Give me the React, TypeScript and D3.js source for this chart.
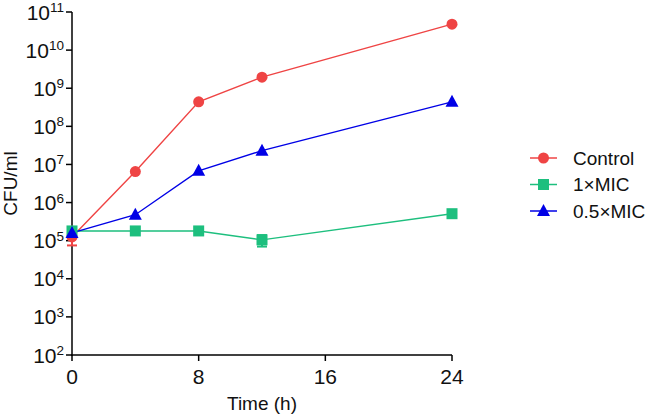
import React from "react";
import * as d3 from "d3";

const times = [0, 4, 8, 12, 24];
const seriesNames = ["Control", "1×MIC", "0.5×MIC"];
const controlValues = [1.25e5, 6.5e6, 4.4e8, 1.95e9, 4.8e10];
const controlErr = [5e4, 0, 0, 0, 0];
const mic1Values = [1.8e5, 1.8e5, 1.8e5, 1.05e5, 5.1e5];
const mic1Err = [2.5e4, 0, 0, 3.5e4, 0];
const mic05Values = [1.6e5, 4.8e5, 6.8e6, 2.3e7, 4.4e8];
const colors = ["#ef4444", "#1dbf7e", "#0000e6"];
const xTicks = [0, 8, 16, 24];
const yExps = [2, 3, 4, 5, 6, 7, 8, 9, 10, 11];

export default function App() {
  const W = 653, H = 417;
  const x = d3.scaleLinear().domain([0, 24]).range([72, 452]);
  const y = d3.scaleLog().domain([1e2, 1e11]).range([355, 12]);
  const line = d3.line<[number, number]>().x(d => x(d[0])).y(d => y(d[1]));
  const data = [controlValues, mic1Values, mic05Values];
  const errs = [controlErr, mic1Err, null];
  const font = "'Liberation Sans', Arial, sans-serif";

  const marker = (i: number, cx: number, cy: number, key: string) => {
    if (i === 0) return <circle key={key} cx={cx} cy={cy} r={5.5} fill={colors[0]} />;
    if (i === 1) return <rect key={key} x={cx - 5.5} y={cy - 5.5} width={11} height={11} fill={colors[1]} />;
    return <path key={key} d={`M${cx},${cy - 7}L${cx + 6.5},${cy + 5}L${cx - 6.5},${cy + 5}Z`} fill={colors[2]} />;
  };

  return (
    <svg width={W} height={H} style={{ position: "absolute", left: 0, top: 0, background: "#fff" }} fontFamily={font}>
      <line x1={72} x2={72} y1={12} y2={356} stroke="#000" strokeWidth={1.5} />
      <line x1={71} x2={452} y1={355} y2={355} stroke="#000" strokeWidth={1.5} />
      {yExps.map(e => (
        <g key={e}>
          <line x1={66} x2={72} y1={y(Math.pow(10, e))} y2={y(Math.pow(10, e))} stroke="#000" strokeWidth={1.5} />
          <text x={64} y={y(Math.pow(10, e)) + 7.5} textAnchor="end" fontSize={21} fill="#111">
            10<tspan dy={-7.5} fontSize={13.5}>{e}</tspan>
          </text>
        </g>
      ))}
      {xTicks.map(t => (
        <g key={t}>
          <line x1={x(t)} x2={x(t)} y1={355} y2={361} stroke="#000" strokeWidth={1.5} />
          <text x={x(t)} y={384} textAnchor="middle" fontSize={21} fill="#111">{t}</text>
        </g>
      ))}
      <text x={262} y={410} textAnchor="middle" fontSize={19} fill="#111">Time (h)</text>
      <text transform={`translate(17,183.5) rotate(-90)`} textAnchor="middle" fontSize={19} fill="#111">CFU/ml</text>

      {data.map((vals, i) => (
        <g key={i}>
          <path d={line(times.map((t, j) => [t, vals[j]] as [number, number])) || ""} fill="none" stroke={colors[i]} strokeWidth={1.4} />
          {errs[i] && times.map((t, j) => errs[i]![j] > 0 ? (
            <g key={j} stroke={colors[i]} strokeWidth={2}>
              <line x1={x(t)} x2={x(t)} y1={y(vals[j] - errs[i]![j])} y2={y(vals[j] + errs[i]![j])} />
              <line x1={x(t) - 5} x2={x(t) + 5} y1={y(vals[j] - errs[i]![j])} y2={y(vals[j] - errs[i]![j])} />
              <line x1={x(t) - 5} x2={x(t) + 5} y1={y(vals[j] + errs[i]![j])} y2={y(vals[j] + errs[i]![j])} />
            </g>
          ) : null)}
        </g>
      ))}
      {[0, 1, 2].map(i => (
        <g key={"m" + i}>{times.map((t, j) => marker(i, x(t), y(data[i][j]), `${i}-${j}`))}</g>
      ))}

      {seriesNames.map((n, i) => {
        const ly = 158 + i * 26.5;
        return (
          <g key={n}>
            <line x1={530} x2={557} y1={ly} y2={ly} stroke={colors[i]} strokeWidth={1.5} />
            {marker(i, 543.5, ly, "l" + i)}
            <text x={573} y={ly + 6.5} fontSize={19} fill="#111">{n}</text>
          </g>
        );
      })}
    </svg>
  );
}
